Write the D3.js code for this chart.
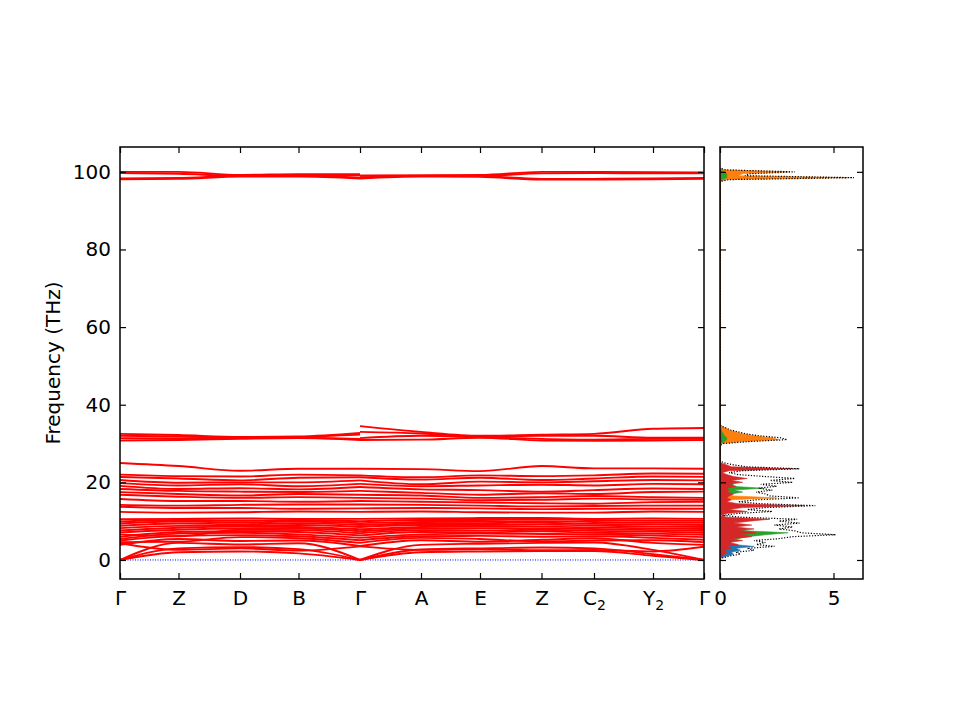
<!DOCTYPE html>
<html><head><meta charset="utf-8">
<script src="https://cdn.jsdelivr.net/npm/d3@7"></script>
<style>body{margin:0;background:#fff}</style>
</head><body><svg id="c" width="960" height="720"></svg>
<script>
// ---- k-path ----
const kLabels = ["Γ","Z","D","B","Γ","A","E","Z","C_2","Y_2","Γ"];
const kDist = [0, 0.585, 1.2, 1.785, 2.4, 3.01, 3.6, 4.215, 4.74, 5.33, 5.84];
const yTicks = [0, 20, 40, 60, 80, 100];
const dosTicks = [0, 5];
// ---- bands: 5 values on Γ-Z-D-B-Γ, then 7 values on Γ-A-E-Z-C2-Y2-Γ ----
const acousticBands = [
  [0, 2.0, 2.2, 1.7, 0,   0, 2.0, 2.2, 2.3, 2.3, 1.1, 0],
  [0, 3.0, 3.3, 2.8, 0,   0, 2.7, 3.0, 3.2, 3.0, 1.5, 0],
  [0, 4.4, 4.0, 4.3, 0,   0, 3.9, 4.2, 4.4, 4.5, 2.6, 0]
];
const lowBands = [
  [4.3, 2.6, 3.0, 2.4, 3.5,   3.5, 2.6, 2.8, 2.5, 2.6, 2.2, 3.4],
  [3.9, 5.4, 4.9, 5.0, 3.6,   3.6, 5.1, 4.7, 5.2, 5.6, 4.4, 3.9],
  [4.6, 4.7, 5.9, 5.6, 4.4,   4.4, 5.7, 5.4, 4.8, 5.0, 5.1, 4.6],
  [5.0, 6.2, 6.4, 6.1, 5.1,   5.1, 6.1, 6.2, 6.0, 6.1, 5.7, 5.2],
  [5.4, 6.8, 7.0, 6.6, 5.7,   5.7, 6.6, 6.8, 6.7, 6.6, 6.3, 5.9],
  [6.0, 7.2, 7.4, 7.2, 6.3,   6.3, 7.2, 7.1, 7.4, 7.0, 6.8, 6.5],
  [6.6, 6.1, 7.8, 7.7, 6.9,   6.9, 7.7, 7.6, 7.8, 7.5, 7.3, 7.0],
  [7.1, 7.8, 8.1, 8.1, 7.4,   7.4, 8.1, 8.2, 8.1, 8.0, 7.7, 7.5],
  [7.6, 8.3, 8.6, 8.5, 7.9,   7.9, 8.5, 8.7, 8.6, 8.4, 8.1, 8.0],
  [8.2, 8.8, 8.8, 9.0, 8.5,   8.5, 9.0, 9.0, 9.1, 8.9, 8.6, 8.5],
  [8.8, 9.4, 9.2, 9.5, 9.0,   9.0, 9.4, 9.5, 9.6, 9.3, 9.1, 9.0],
  [9.4, 9.9, 9.7, 9.9, 9.5,   9.5, 9.8, 9.9, 10.0, 9.8, 9.6, 9.6],
  [9.9, 10.3, 10.1, 10.3, 10.0,   10.0, 10.3, 10.3, 10.5, 10.3, 10.1, 10.1],
  [10.5, 10.6, 10.7, 10.6, 10.6,   10.6, 10.7, 10.8, 10.8, 10.6, 10.7, 10.6]
];
const midBands = [
  [25.0, 24.2, 23.0, 23.5, 23.5,   23.5, 23.4, 22.9, 24.2, 23.6, 23.6, 23.5],
  [22.0, 21.6, 21.5, 22.0, 21.8,   21.8, 21.3, 21.8, 21.6, 21.8, 22.3, 22.2],
  [21.4, 21.0, 20.5, 21.2, 21.3,   21.3, 20.7, 21.2, 20.6, 21.0, 21.5, 21.4],
  [20.6, 19.9, 20.0, 20.0, 20.5,   20.5, 19.5, 20.2, 20.0, 20.3, 20.6, 20.5],
  [19.8, 19.2, 19.5, 19.0, 19.6,   19.6, 19.0, 19.2, 19.4, 19.2, 19.6, 19.5],
  [19.1, 18.3, 18.5, 18.2, 18.8,   18.8, 18.2, 18.0, 17.6, 18.0, 18.4, 18.3],
  [18.3, 17.8, 17.6, 17.5, 17.8,   17.8, 17.3, 16.8, 17.2, 17.0, 17.5, 17.6],
  [17.5, 17.0, 16.6, 17.0, 16.8,   16.8, 16.6, 16.0, 16.2, 16.5, 16.2, 16.0],
  [16.8, 16.3, 16.0, 16.2, 16.0,   16.0, 15.8, 15.4, 15.5, 15.8, 15.6, 15.5],
  [15.7, 15.2, 15.2, 15.0, 15.2,   15.2, 15.0, 14.8, 14.6, 14.5, 14.9, 15.0],
  [14.2, 14.0, 14.2, 14.3, 14.3,   14.3, 14.2, 14.0, 13.8, 13.9, 14.0, 14.0],
  [13.7, 13.4, 13.4, 13.2, 13.3,   13.3, 13.4, 13.3, 13.1, 13.2, 13.2, 13.2],
  [12.4, 12.2, 12.3, 12.5, 12.4,   12.4, 12.5, 12.3, 12.2, 12.2, 12.5, 12.4]
];
const upperBands = [
  [32.5, 32.2, 31.7, 31.8, 32.7,   34.5, 33.0, 32.0, 32.3, 32.5, 33.8, 34.0],
  [32.0, 31.8, 31.5, 31.7, 32.3,   33.0, 32.6, 31.8, 32.0, 32.0, 31.5, 31.5],
  [31.4, 31.3, 31.4, 31.5, 31.2,   31.4, 32.0, 31.7, 31.2, 31.0, 31.2, 31.2],
  [30.8, 30.9, 31.2, 31.4, 30.9,   30.9, 31.0, 31.5, 30.8, 30.7, 30.8, 30.9]
];
const topBands = [
  [100.0, 100.0, 99.2, 99.4, 99.4,   99.0, 99.1, 99.2, 100.0, 100.0, 99.9, 99.8],
  [99.7, 99.5, 99.0, 99.2, 99.1,   99.0, 99.0, 99.0, 99.6, 99.7, 99.6, 99.6],
  [98.3, 98.4, 99.0, 99.0, 98.5,   98.5, 99.0, 98.9, 98.2, 98.2, 98.3, 98.4],
  [98.1, 98.2, 98.8, 98.8, 98.3,   98.3, 98.8, 98.7, 98.0, 98.0, 98.1, 98.2]
];
// ---- projected DOS ----
const dosFreq = [
  0,0.5,1,1.5,2,2.5,3,3.5,4,4.5,5,5.5,6,
  6.5,7,7.5,8,8.5,9,9.5,10,10.5,11,11.5,12,12.5,
  13,13.5,14,14.5,15,15.5,16,16.5,17,17.5,18,18.5,19,
  19.5,20,20.5,21,21.5,22,22.5,23,23.5,24,24.5,25,25.5,
  29.5,30,30.5,31,31.5,32,32.5,33,33.5,34,34.5,35,
  97,97.5,98,98.5,99,99.5,100,100.5,101
];
const dosBlue = [
  0,0.05,0.3,0.6,0.5,0.9,0.7,1.5,0.6,0.3,0.2,0.3,0.2,
  0.3,0.2,0.3,0.2,0.2,0.1,0.15,0.05,0.05,0,0,0.05,0.1,
  0.05,0.1,0.1,0.05,0.05,0.05,0.05,0.05,0.05,0.1,0.1,0.05,0.05,
  0.1,0.05,0.05,0.05,0.05,0.02,0,0.02,0.05,0.02,0,0,0,
  0,0,0,0,0,0,0,0,0,0,0,0,
  0,0,0,0,0,0,0,0,0
];
const dosOrange = [
  0,0,0.05,0.1,0.1,0.2,0.2,0.3,0.5,0.3,0.6,0.3,0.5,
  0.4,0.6,0.3,0.4,0.5,0.3,0.4,0.2,0.3,0.1,0,0.1,0.2,
  0.2,0.3,0.3,0.2,0.2,0.4,2.5,0.6,0.3,0.4,0.3,0.2,0.4,
  0.3,0.2,0.2,0.1,0.1,0.05,0,0.1,0.1,0.05,0,0,0,
  0,0.1,1.0,2.6,2.3,1.5,1.0,0.7,0.4,0.25,0.05,0,
  0,0,0.3,5.6,0.8,1.0,3.0,0.2,0
];
const dosGreen = [
  0,0,0.05,0.1,0.1,0.2,0.2,0.3,0.3,0.5,0.3,0.8,1.2,
  2.0,3.0,1.2,0.6,0.8,0.4,0.5,0.3,0.3,0.1,0,0.1,0.3,
  0.2,0.4,0.2,0.3,0.2,0.3,0.2,0.3,0.5,1.0,0.6,1.9,0.5,
  0.6,0.4,0.5,0.6,0.3,0.1,0,0.1,0.2,0.1,0,0,0,
  0,0.05,0.2,0.3,0.3,0.2,0.15,0.1,0.05,0.02,0,0,
  0,0,0.1,0.3,0.3,0.3,0.2,0.05,0
];
const dosRed = [
  0,0,0.1,0.2,0.3,0.2,0.5,0.3,0.8,0.4,1.0,0.5,1.4,
  0.9,1.6,0.8,1.5,0.7,1.4,0.6,1.3,2.2,0.3,0,0.3,1.2,
  0.4,1.0,3.7,0.8,0.3,0.5,0.3,0.4,0.6,0.3,0.4,0.3,0.7,
  0.4,1.0,0.5,1.2,0.6,0.3,0.1,0.4,3.2,0.5,0.3,0.05,0,
  0,0,0.05,0.05,0.05,0.02,0,0,0,0,0,0,
  0,0,0,0,0,0,0,0,0
];
const dosTotal = [
  0,0.1,0.4,0.9,0.7,1.5,1.2,2.4,1.6,2.0,1.5,2.6,3.2,
  5.1,3.6,3.3,2.6,3.2,2.4,3.5,2.6,3.4,1.0,0.1,0.8,2.3,
  1.2,2.0,4.2,1.8,0.8,1.6,3.5,2.2,2.0,1.6,2.3,1.7,2.5,
  1.8,3.2,2.2,3.3,2.0,0.8,0.4,1.0,3.5,1.2,0.6,0.2,0,
  0,0.15,1.25,2.95,2.65,1.72,1.15,0.8,0.45,0.27,0.05,0,
  0,0,0.4,5.9,1.1,1.3,3.3,0.25,0
];
const dosColors = ["#1f77b4","#ff7f0e","#2ca02c","#d62728"];

// ---- layout ----
const FONT = "DejaVu Sans, sans-serif";
const T = 147, B = 579;
const L1 = 120, R1 = 704, L2 = 720, R2 = 863;
const svg = d3.select("#c");
const y = d3.scaleLinear().domain([-4.9, 106.4]).range([B, T]);
const x = d3.scaleLinear().domain([0, kDist[kDist.length-1]]).range([L1, R1]);
const xd = d3.scaleLinear().domain([0, 6.3]).range([L2, R2]);

const defs = svg.append("defs");
defs.append("clipPath").attr("id","clip1").append("rect").attr("x",L1).attr("y",T).attr("width",R1-L1).attr("height",B-T);
defs.append("clipPath").attr("id","clip2").append("rect").attr("x",L2).attr("y",T).attr("width",R2-L2).attr("height",B-T);

// ---- bands ----
const gB = svg.append("g").attr("clip-path","url(#clip1)");
gB.append("line").attr("x1",x(0)).attr("x2",x(kDist[10])).attr("y1",y(0)).attr("y2",y(0))
  .attr("stroke","#0000ff").attr("stroke-width",1).attr("stroke-dasharray","1,1.5");
const line = d3.line().x(d=>x(d[0])).y(d=>y(d[1])).curve(d3.curveMonotoneX);
const allBands = [].concat(acousticBands, lowBands, midBands, upperBands, topBands);
allBands.forEach(b => {
  const s1 = [0,1,2,3,4].map(i => [kDist[i], b[i]]);
  const s2 = [4,5,6,7,8,9,10].map((k,j) => [kDist[k], b[5+j]]);
  [s1, s2].forEach(s => gB.append("path").attr("d", line(s)).attr("fill","none")
    .attr("stroke","#ff0000").attr("stroke-width",1.9));
});

// ---- DOS ----
const gD = svg.append("g").attr("clip-path","url(#clip2)");
const pdos = [dosBlue, dosOrange, dosGreen, dosRed];
pdos.forEach((arr, k) => {
  const area = d3.area().y((d,i)=>y(dosFreq[i])).x0(xd(0)).x1(d=>xd(d));
  gD.append("path").attr("d", area(arr)).attr("fill", dosColors[k]).attr("stroke", dosColors[k]).attr("stroke-width",0.6);
});
const tline = d3.line().y((d,i)=>y(dosFreq[i])).x(d=>xd(d));
gD.append("path").attr("d", tline(dosTotal)).attr("fill","none").attr("stroke","#000")
  .attr("stroke-width",1.2).attr("stroke-dasharray","1.2,1.6");

// ---- axes ----
function styleAxis(g){
  g.select(".domain").remove();
  g.selectAll(".tick line").attr("stroke","#000").attr("stroke-width",1.2);
  g.attr("font-size",20).attr("font-family",FONT);
  g.selectAll(".tick text").attr("fill","#000");
}
svg.append("g").attr("transform",`translate(${L1},0)`)
  .call(d3.axisLeft(y).tickValues(yTicks).tickSizeInner(-6).tickSizeOuter(0).tickPadding(9)).call(styleAxis);
svg.append("g").attr("transform",`translate(${R1},0)`)
  .call(d3.axisRight(y).tickValues(yTicks).tickSizeInner(-6).tickSizeOuter(0).tickFormat(()=>"")).call(styleAxis);
const gx = svg.append("g").attr("transform",`translate(0,${B})`)
  .call(d3.axisBottom(x).tickValues(kDist).tickSizeInner(-6).tickSizeOuter(0).tickPadding(12)
    .tickFormat((d,i)=>kLabels[i].split("_")[0])).call(styleAxis);
gx.selectAll(".tick text").each(function(d,i){
  const p = kLabels[i].split("_");
  if (p[1]) d3.select(this).append("tspan").attr("font-size",14).attr("dy","0.32em").text(p[1]);
});
svg.append("g").attr("transform",`translate(0,${T})`)
  .call(d3.axisTop(x).tickValues(kDist).tickSizeInner(-6).tickSizeOuter(0).tickFormat(()=>"")).call(styleAxis);
// DOS axes
svg.append("g").attr("transform",`translate(0,${B})`)
  .call(d3.axisBottom(xd).tickValues(dosTicks).tickSizeInner(-6).tickSizeOuter(0).tickPadding(12).tickFormat(d3.format("d"))).call(styleAxis);
svg.append("g").attr("transform",`translate(0,${T})`)
  .call(d3.axisTop(xd).tickValues(dosTicks).tickSizeInner(-6).tickSizeOuter(0).tickFormat(()=>"")).call(styleAxis);
svg.append("g").attr("transform",`translate(${L2},0)`)
  .call(d3.axisLeft(y).tickValues(yTicks).tickSizeInner(-6).tickSizeOuter(0).tickFormat(()=>"")).call(styleAxis);
svg.append("g").attr("transform",`translate(${R2},0)`)
  .call(d3.axisRight(y).tickValues(yTicks).tickSizeInner(-6).tickSizeOuter(0).tickFormat(()=>"")).call(styleAxis);

// frames
[[L1,R1],[L2,R2]].forEach(([a,b]) => svg.append("rect").attr("x",a).attr("y",T).attr("width",b-a).attr("height",B-T)
  .attr("fill","none").attr("stroke","#000").attr("stroke-width",1.5));

// y label
svg.append("text").attr("transform",`translate(53,${(T+B)/2}) rotate(-90)`).attr("text-anchor","middle")
  .attr("dy","0.35em").attr("font-size",20).attr("font-family",FONT).text("Frequency (THz)");
</script></body></html>
